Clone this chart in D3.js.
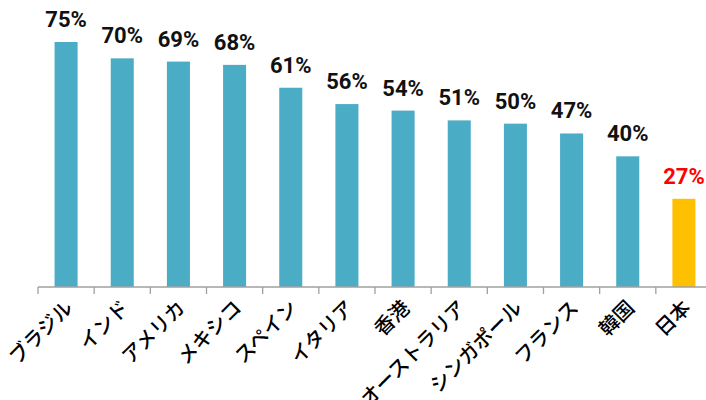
<!DOCTYPE html>
<html>
<head>
<meta charset="utf-8">
<script src="https://cdn.jsdelivr.net/npm/d3@7"></script>
<style>
  body { margin: 0; background: #fff; }
  svg { display: block; }
</style>
</head>
<body>
<div id="chart"></div>
<script>
// data
const countries = ["ブラジル", "インド", "アメリカ", "メキシコ", "スペイン", "イタリア", "香港",
  "オーストラリア", "シンガポール", "フランス", "韓国", "日本"];
const values = [75, 70, 69, 68, 61, 56, 54, 51, 50, 47, 40, 27];
const highlight = "日本";

const width = 706,
    height = 400,
    margin = ({ top: 0, right: -6, bottom: 113, left: 38 });

const svg = d3.select("#chart")
    .append("svg")
    .attr("width", width)
    .attr("height", height);

const x = d3.scaleBand()
    .domain(countries)
    .range([margin.left, width - margin.right])
    .paddingInner(0.59)
    .paddingOuter(0.295);

// 75% sits at y=42, base at 287
const y = d3.scaleLinear()
    .domain([0, 75])
    .range([height - margin.bottom, 42]);

const data = countries.map((c, i) => ({ name: c, value: values[i] }));

// bars
svg.selectAll(".bar")
    .data(data)
    .join("rect")
    .attr("class", "bar")
    .attr("x", d => x(d.name))
    .attr("width", x.bandwidth())
    .attr("y", d => y(d.value))
    .attr("height", d => y(0) - y(d.value))
    .attr("fill", d => d.name == highlight ? "#FFC000" : "#4BACC6");

// value labels
svg.selectAll(".val")
    .data(data)
    .join("text")
    .attr("class", "val")
    .attr("x", d => x(d.name) + x.bandwidth() / 2)
    .attr("y", d => y(d.value) - 15)
    .attr("text-anchor", "middle")
    .style("font-family", "Roboto, 'Liberation Sans', sans-serif")
    .style("font-weight", "bold")
    .style("font-size", "22px")
    .attr("fill", d => d.name == highlight ? "#FF0000" : "#111")
    .text(d => d.value + "%");

// x axis: line plus ticks on band edges
const ax = svg.append("g")
    .attr("transform", `translate(0,${y(0)})`);

ax.append("line")
    .attr("x1", margin.left)
    .attr("x2", width)
    .attr("stroke", "#a0a0a0")
    .attr("stroke-width", 1.3);

const step = x.step();
const edges = countries.map((c, i) => margin.left + i * step);
ax.selectAll(".tick")
    .data(edges)
    .join("line")
    .attr("class", "tick")
    .attr("x1", d => d)
    .attr("x2", d => d)
    .attr("y1", 0)
    .attr("y2", 7)
    .attr("stroke", "#a0a0a0")
    .attr("stroke-width", 1.3);

// rotated category labels
svg.selectAll(".cat")
    .data(data)
    .join("text")
    .attr("class", "cat")
    .attr("text-anchor", "end")
    .attr("transform", d => `translate(${x(d.name) + x.bandwidth() / 2 + 8},${y(0) + 22}) rotate(-45)`)
    .style("font-family", "'Noto Sans CJK JP', sans-serif")
    .style("font-size", "20px")
    .style("font-weight", 500)
    .attr("fill", "#000")
    .text(d => d.name);
</script>
</body>
</html>
